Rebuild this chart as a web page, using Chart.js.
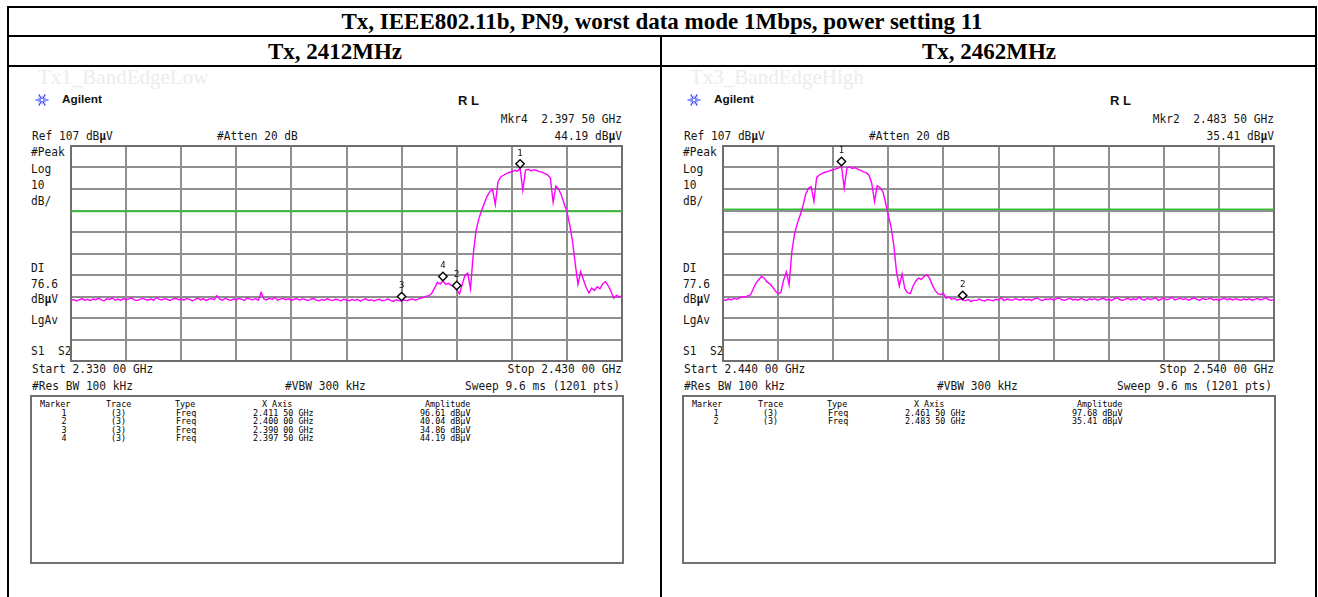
<!DOCTYPE html>
<html>
<head>
<meta charset="utf-8">
<script src="https://cdn.jsdelivr.net/npm/chart.js@4.4.1/dist/chart.umd.min.js"></script>
<style>
  html, body { margin: 0; padding: 0; background: #fff; }
  #page { position: relative; width: 1318px; height: 597px; overflow: hidden; background: #fff; }
  .rule { position: absolute; background: #000; }
  .t { position: absolute; white-space: pre; line-height: 1; }
  .mono { font-family: 'DejaVu Sans Mono', monospace; color: #161616; }
  .serif { font-family: 'Liberation Serif', 'Times New Roman', serif; font-weight: bold; color: #000; }
  .sans { font-family: 'Liberation Sans', Arial, sans-serif; font-weight: bold; color: #111; }
  .box { position: absolute; border: 2px solid #707070; box-sizing: border-box; }
  canvas { position: absolute; }
</style>
</head>
<body>
<div id="page"></div>
<script>
// ---- sweep settings ----
const stepMHz = 0.5;                 // trace point spacing
const refLevel = 107;                // dBµV at top graticule
const dbPerDiv = 10;
const divisions = 10;

const lowStartMHz = 2330, lowStopMHz = 2430, lowDisplayLine = 76.6;
const highStartMHz = 2440, highStopMHz = 2540, highDisplayLine = 77.6;

// ---- trace levels (dBµV), one per 0.5 MHz from start to stop ----
const lowTrace = [
  35.2, 35.6, 34.9, 35.4, 36.0, 35.3, 35.7, 35.1, 35.8, 35.5,
  36.2, 35.4, 35.0, 35.9, 35.6, 36.4, 35.3, 35.8, 35.2, 36.0,
  35.5, 35.9, 36.3, 35.4, 35.1, 35.7, 36.1, 35.6, 35.3, 35.9,
  35.2, 36.5, 35.8, 35.4, 36.0, 35.6, 35.1, 35.9, 36.2, 35.5,
  35.8, 35.3, 36.1, 35.7, 35.0, 35.6, 36.3, 35.4, 35.9, 35.2,
  35.7, 36.0, 35.5, 37.4, 35.8, 35.3, 36.2, 35.6, 35.1, 35.9,
  35.4, 36.1, 35.7, 35.2, 36.4, 35.8, 35.5, 36.0, 35.3, 38.9,
  35.9, 35.4, 36.2, 35.6, 36.6, 35.3, 35.8, 36.1, 35.5, 35.9,
  35.2, 35.7, 36.0, 35.4, 35.9, 35.6, 35.1, 35.8, 36.2, 35.3,
  35.0, 35.6, 35.3, 35.9, 35.4, 35.1, 35.7, 35.5, 34.9, 35.8,
  35.3, 35.0, 35.6, 35.2, 35.7, 34.8, 35.4, 35.9, 35.1, 35.5,
  34.9, 35.4, 35.7, 35.0, 35.3, 35.8, 35.2, 34.7, 35.5, 35.1,
  34.86, 35.4, 35.0, 35.6, 35.9, 35.3, 35.8, 36.3, 36.6, 37.2,
  37.4, 38.6, 41.0, 43.6, 42.8, 44.19, 42.6, 43.1, 42.2, 41.6,
  40.04, 38.2, 42.5, 46.9, 47.8, 40.6, 56.5, 67.5, 73.0, 77.0,
  80.2, 83.6, 85.8, 86.9, 79.8, 90.4, 92.6, 93.4, 94.1, 94.7,
  95.0, 95.7, 95.3, 96.61, 86.5, 95.8, 96.2, 95.4, 96.0, 95.6,
  95.1, 94.8, 94.2, 93.6, 92.1, 80.8, 88.4, 86.9, 84.2, 80.1,
  76.6, 70.4, 63.0, 52.5, 42.6, 48.6, 44.8, 41.2, 38.6, 40.9,
  39.8, 41.5, 40.6, 42.9, 43.9, 42.0, 39.4, 36.2, 37.5, 36.8, 37.4
];

const highTrace = [
  35.6, 35.2, 35.9, 35.4, 36.1, 35.7, 36.4, 37.0, 36.6, 37.3,
  37.8, 40.6, 43.2, 44.9, 46.3, 45.5, 43.8, 42.9, 41.4, 39.5,
  38.3, 38.9, 44.6, 48.4, 42.5, 58.0, 66.4, 71.0, 74.8, 79.0,
  84.6, 87.3, 88.1, 81.3, 92.4, 93.5, 94.3, 94.8, 95.2, 95.6,
  95.9, 96.4, 96.8, 97.68, 87.4, 96.9, 97.2, 96.5, 97.0, 96.1,
  95.7, 95.0, 94.6, 93.4, 89.6, 81.2, 88.5, 87.6, 85.9, 80.6,
  74.9, 69.3, 60.8, 48.2, 41.8, 47.5, 40.6, 38.7, 38.4, 41.9,
  44.2, 45.6, 45.0, 46.3, 47.1, 45.4, 42.3, 39.8, 38.3, 37.9,
  38.4, 36.2, 36.8, 35.7, 36.1, 35.3, 35.8, 35.41, 35.0, 35.6,
  34.6, 35.3, 35.1, 35.8, 35.2, 34.9, 35.6, 35.3, 35.0, 35.7,
  35.4, 36.5, 35.1, 35.8, 35.5, 35.2, 36.0, 35.6, 35.3, 35.9,
  35.4, 35.7, 35.2, 35.9, 36.3, 35.5, 35.1, 35.8, 35.6, 36.0,
  35.3, 35.9, 36.4, 35.5, 35.2, 35.8, 36.1, 35.4, 35.7, 35.3,
  36.2, 35.6, 35.1, 35.9, 35.5, 36.0, 35.3, 35.8, 36.3, 35.4,
  35.7, 35.2, 35.9, 36.5, 35.6, 35.1, 35.8, 36.2, 35.4, 35.9,
  35.5, 36.8, 35.7, 35.3, 36.1, 35.6, 35.9, 36.4, 35.2, 35.8,
  36.3, 35.5, 35.9, 36.6, 35.4, 35.8, 36.2, 35.6, 36.0, 35.3,
  35.9, 36.4, 35.7, 35.2, 36.1, 35.6, 35.8, 36.3, 35.4, 35.7,
  35.3, 35.8, 36.2, 35.5, 35.9, 35.4, 36.0, 35.6, 35.2, 35.8,
  35.5, 35.9, 35.3, 35.7, 36.1, 35.4, 35.8, 36.4, 35.6, 35.2, 35.5
];

// ---- markers ----
const lowMarkerFreq = [2411.5, 2400.0, 2390.0, 2397.5];
const lowMarkerAmp  = [96.61, 40.04, 34.86, 44.19];
const lowActive = 4;
const highMarkerFreq = [2461.5, 2483.5];
const highMarkerAmp  = [97.68, 35.41];
const highActive = 2;

// ---- headings ----
const mainTitle = 'Tx, IEEE802.11b, PN9, worst data mode 1Mbps, power setting 11';
const panelTitles = ['Tx, 2412MHz', 'Tx, 2462MHz'];
const screenNames = ['Tx1_BandEdgeLow', 'Tx3_BandEdgeHigh'];

const page = document.getElementById('page');

function rule(x, y, w, h) {
  const d = document.createElement('div');
  d.className = 'rule';
  Object.assign(d.style, { left: x + 'px', top: y + 'px', width: w + 'px', height: h + 'px' });
  page.appendChild(d);
}

function text(html, x, y, opt) {
  opt = opt || {};
  const d = document.createElement('div');
  d.className = 't ' + (opt.cls || 'mono');
  d.innerHTML = html;
  d.style.fontSize = (opt.size || 11.2) + 'px';
  if (opt.color) d.style.color = opt.color;
  if (opt.weight) d.style.fontWeight = opt.weight;
  const ax = opt.align === 'right' ? '-100%' : opt.align === 'center' ? '-50%' : '0';
  d.style.left = x + 'px';
  d.style.top = y + 'px';
  const sy = opt.sy === undefined ? (opt.cls && opt.cls !== 'mono' ? 1 : 1.15) : opt.sy;
  d.style.transform = 'translate(' + ax + ',-50%) scaleY(' + sy + ')';
  page.appendChild(d);
  return d;
}

function ghz(mhz) {
  const s = (mhz / 1000).toFixed(5);
  return s.slice(0, 5) + ' ' + s.slice(5) + ' GHz';
}
const uV = 'dB<b>µ</b>V';

function star(cx, cy) {
  const ns = 'http://www.w3.org/2000/svg';
  const svg = document.createElementNS(ns, 'svg');
  svg.setAttribute('width', 16); svg.setAttribute('height', 16);
  svg.setAttribute('viewBox', '-8 -8 16 16');
  svg.style.position = 'absolute';
  svg.style.left = (cx - 8) + 'px'; svg.style.top = (cy - 8) + 'px';
  for (let k = 0; k < 12; k++) {
    const a = k * Math.PI / 6;
    const r = k % 2 ? 4.5 : 6.5;
    const l = document.createElementNS(ns, 'line');
    l.setAttribute('x1', (Math.cos(a) * 1.2).toFixed(2));
    l.setAttribute('y1', (Math.sin(a) * 1.2).toFixed(2));
    l.setAttribute('x2', (Math.cos(a) * r).toFixed(2));
    l.setAttribute('y2', (Math.sin(a) * r).toFixed(2));
    l.setAttribute('stroke', k % 2 ? '#8a95ff' : '#2f3ff0');
    l.setAttribute('stroke-width', '1.1');
    svg.appendChild(l);
  }
  page.appendChild(svg);
}

// graticule drawn from the chart's own scales
const gridPlugin = {
  id: 'analyzerGrid',
  beforeDatasetsDraw(chart) {
    const { ctx, chartArea: a, scales: { x, y } } = chart;
    ctx.save();
    ctx.strokeStyle = '#8f8f8f';
    ctx.lineWidth = 2;
    for (let k = 1; k < divisions; k++) {
      const px = Math.round(x.getPixelForValue(x.min + k * (x.max - x.min) / divisions));
      ctx.beginPath(); ctx.moveTo(px, a.top); ctx.lineTo(px, a.bottom); ctx.stroke();
      const py = Math.round(y.getPixelForValue(y.min + k * (y.max - y.min) / divisions));
      ctx.beginPath(); ctx.moveTo(a.left, py); ctx.lineTo(a.right, py); ctx.stroke();
    }
    ctx.strokeStyle = '#6e6e6e';
    ctx.lineWidth = 2;
    ctx.strokeRect(a.left, a.top, a.right - a.left, a.bottom - a.top);
    ctx.restore();
  }
};

function markerPlugin(freqs, amps) {
  return {
    id: 'analyzerMarkers',
    afterDatasetsDraw(chart) {
      const { ctx, scales: { x, y } } = chart;
      ctx.save();
      freqs.forEach((f, k) => {
        const px = x.getPixelForValue(f);
        const py = y.getPixelForValue(amps[k]);
        const cy = py - 4.5, r = 4.2;
        ctx.beginPath();
        ctx.moveTo(px, cy - r); ctx.lineTo(px + r, cy); ctx.lineTo(px, cy + r); ctx.lineTo(px - r, cy);
        ctx.closePath();
        ctx.fillStyle = '#fff'; ctx.fill();
        ctx.strokeStyle = '#000'; ctx.lineWidth = 1.4; ctx.stroke();
        ctx.fillStyle = '#111';
        ctx.font = '9px "DejaVu Sans Mono", monospace';
        ctx.textAlign = 'center'; ctx.textBaseline = 'middle';
        ctx.fillText(String(k + 1), px, py - 15);
      });
      ctx.restore();
    }
  };
}

function panel(base, cfg) {
  const gx = 71 + base, gy = 146, gw = 551, gh = 215;

  text(cfg.name, 38 + base, 77, { cls: 'serif', size: 21, weight: 'normal', color: '#ececec' });
  star(42 + base, 100);
  text('Agilent', 62 + base, 100, { cls: 'sans', size: 11.8 });
  text('R L', 458 + base, 100, { cls: 'sans', size: 13 });

  const ai = cfg.active - 1;
  text('Mkr' + cfg.active + '  ' + ghz(cfg.mFreq[ai]), 622 + base, 119, { align: 'right' });
  text('Ref ' + refLevel + ' ' + uV, 32 + base, 136);
  text('#Atten 20 dB', 217 + base, 136);
  text(cfg.mAmp[ai].toFixed(2) + ' ' + uV, 622 + base, 136, { align: 'right' });

  const lx = 31 + base;
  text('#Peak', lx, 152);
  text('Log', lx, 169);
  text(String(dbPerDiv), lx, 185);
  text('dB/', lx, 201);
  text('DI', lx, 268);
  text(cfg.dl.toFixed(1), lx, 284);
  text(uV, lx, 299);
  text('LgAv', lx, 320);
  text('S1  S2', lx, 351);

  text('Start ' + ghz(cfg.start), 32 + base, 369);
  text('Stop ' + ghz(cfg.stop), 622 + base, 369, { align: 'right' });
  text('#Res BW 100 kHz', 32 + base, 386);
  text('#VBW 300 kHz', 285 + base, 386);
  text('Sweep 9.6 ms (1201 pts)', 620 + base, 386, { align: 'right' });

  // marker table
  const box = document.createElement('div');
  box.className = 'box';
  Object.assign(box.style, { left: (30 + base) + 'px', top: '395px', width: '594px', height: '169px' });
  page.appendChild(box);
  const fs = 8.4, tsy = 1.1, tc = '#000';
  const cell = (s, x, y, align) => text(s, x, y, { size: fs, sy: tsy, color: tc, align: align });
  cell('Marker', 40 + base, 404);
  cell('Trace', 106 + base, 404);
  cell('Type', 175 + base, 404);
  cell('X Axis', 262 + base, 404);
  cell('Amplitude', 425 + base, 404);
  cfg.mFreq.forEach((f, k) => {
    const ry = 412.5 + k * 8.6;
    cell(String(k + 1), 64 + base, ry, 'center');
    cell('(3)', 111 + base, ry);
    cell('Freq', 176 + base, ry);
    cell(ghz(f), 253 + base, ry);
    cell(cfg.mAmp[k].toFixed(2) + ' dBµV', 420 + base, ry);
  });

  // plot
  const cv = document.createElement('canvas');
  cv.width = gw + 4; cv.height = gh + 4;
  cv.style.left = (gx - 2) + 'px'; cv.style.top = (gy - 2) + 'px';
  cv.style.width = (gw + 4) + 'px'; cv.style.height = (gh + 4) + 'px';
  page.appendChild(cv);

  const pts = cfg.trace.map((v, i) => ({ x: cfg.start + i * stepMHz, y: v }));
  new Chart(cv, {
    type: 'line',
    data: {
      datasets: [
        { data: pts, borderColor: '#ff00ff', borderWidth: 1.4, pointRadius: 0, tension: 0, order: 1 },
        { data: [{ x: cfg.start, y: cfg.dl }, { x: cfg.stop, y: cfg.dl }],
          borderColor: '#33c033', borderWidth: 1.6, pointRadius: 0, order: 2 }
      ]
    },
    options: {
      responsive: false,
      animation: false,
      events: [],
      devicePixelRatio: 1,
      layout: { padding: 2 },
      scales: {
        x: { type: 'linear', min: cfg.start, max: cfg.stop, display: false },
        y: { type: 'linear', min: refLevel - dbPerDiv * divisions, max: refLevel, display: false }
      },
      plugins: { legend: { display: false }, tooltip: { enabled: false } }
    },
    plugins: [gridPlugin, markerPlugin(cfg.mFreq, cfg.mAmp)]
  });
}

// table frame
rule(7, 6, 1310, 2);
rule(7, 6, 2, 591);
rule(1315, 6, 2, 591);
rule(7, 35, 1310, 2);
rule(7, 65, 1310, 2);
rule(660, 35, 2, 562);

text(mainTitle, 662, 21, { cls: 'serif', size: 23, align: 'center' });
text(panelTitles[0], 335, 51, { cls: 'serif', size: 23, align: 'center' });
text(panelTitles[1], 989, 51, { cls: 'serif', size: 23, align: 'center' });

panel(0, { name: screenNames[0], start: lowStartMHz, stop: lowStopMHz, dl: lowDisplayLine,
           trace: lowTrace, mFreq: lowMarkerFreq, mAmp: lowMarkerAmp, active: lowActive });
panel(652, { name: screenNames[1], start: highStartMHz, stop: highStopMHz, dl: highDisplayLine,
             trace: highTrace, mFreq: highMarkerFreq, mAmp: highMarkerAmp, active: highActive });
</script>
</body>
</html>
